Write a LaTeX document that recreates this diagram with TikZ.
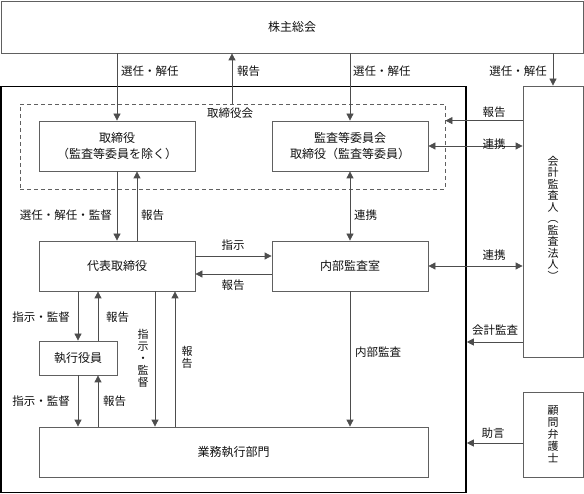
\documentclass[tikz,border=0pt]{standalone}
\usepackage{fontspec}
\setmainfont{Noto Sans CJK JP}
\usetikzlibrary{arrows.meta}
\definecolor{ln}{HTML}{4D4D4D}
\definecolor{bx}{HTML}{606060}
\definecolor{tx}{HTML}{111111}
\tikzset{
  box/.style={draw=bx, line width=0.8pt, inner sep=0pt, text=tx, align=center,
    font=\fontsize{12}{15.5}\selectfont},
  lbl/.style={inner sep=0pt, text=tx, font=\fontsize{11.5}{13}\selectfont},
  vlbl/.style={inner sep=0pt, text=tx, align=center, font=\fontsize{11}{12}\selectfont},
  arr/.style={draw=ln, line width=0.8pt, -{Triangle[length=7pt,width=7pt]}},
  darr/.style={draw=ln, line width=0.8pt, {Triangle[length=7pt,width=7pt]}-{Triangle[length=7pt,width=7pt]}}
}
\begin{document}
\begin{tikzpicture}[x=1pt,y=-1pt]
\useasboundingbox (0,0) rectangle (584,494);
% boxes
\node[box, minimum width=582pt, minimum height=52pt] (sh) at (292,27) {株主総会};
\node[draw=black, line width=1.6pt, minimum width=465pt, minimum height=406pt, inner sep=0pt] (co) at (233.5,289.5) {};
\node[draw=bx, dash pattern=on 4pt off 3pt, line width=0.8pt, minimum width=425pt, minimum height=85pt, inner sep=0pt] (bd) at (232.5,146.5) {};
\node[lbl] (bdl) at (230,113) {取締役会};
\node[box, minimum width=156pt, minimum height=50pt] (dir) at (117,146) {取締役\\（監査等委員を除く）};
\node[box, minimum width=156pt, minimum height=50pt] (ac) at (350,146) {監査等委員会\\取締役（監査等委員）};
\node[box, minimum width=156pt, minimum height=50pt] (rep) at (117,266) {代表取締役};
\node[box, minimum width=156pt, minimum height=50pt] (ia) at (350,266) {内部監査室};
\node[box, minimum width=78pt, minimum height=34pt] (exo) at (78,358) {執行役員};
\node[box, minimum width=389pt, minimum height=50pt] (ops) at (233.5,452) {業務執行部門};
\node[box, minimum width=60pt, minimum height=271pt, font=\fontsize{11}{11.5}\selectfont] (aud) at (553,221.5) {};
\node[inner sep=0pt, text=tx, align=center, font=\fontsize{11}{11.5}\selectfont] (audt) at (553,218) {会\\計\\監\\査\\人\\︵\\監\\査\\法\\人\\︶};
\node[box, minimum width=60pt, minimum height=85pt, font=\fontsize{11}{12}\selectfont] (law) at (553,434.5) {顧\\問\\弁\\護\\士};
% coordinates
\coordinate (r1) at (232,104);
\coordinate (ya) at (0,342);
\coordinate (yl) at (0,443);
\coordinate (xr) at (137,0);
\coordinate (xe) at (98,0);
\coordinate (xd) at (155,0);
\coordinate (xu) at (175,0);
\coordinate (yi) at (0,256);
\coordinate (yo) at (0,274);
% top connectors
\draw[arr] (sh.south -| dir.north) -- (dir.north);
\node[lbl, anchor=west] (l1) at (121,71) {選任・解任};
\draw[arr] (bd.north -| r1) -- (sh.south -| r1);
\node[lbl, anchor=west] (l2) at (237,71) {報告};
\draw[arr] (sh.south -| ac.north) -- (ac.north);
\node[lbl, anchor=west] (l3) at (353,71) {選任・解任};
\draw[arr] (sh.south -| aud.north) -- (aud.north);
\node[lbl, anchor=east] (l4) at (547,71) {選任・解任};
% auditor connectors
\draw[arr] (aud.west |- dir.north) -- (bd.east |- dir.north);
\node[lbl] (l5) at (494,112) {報告};
\draw[darr] (ac.east) -- (aud.west |- ac.east);
\node[lbl] (l6) at (494,144) {連携};
\draw[darr] (ia.east) -- (aud.west |- ia.east);
\node[lbl] (l7) at (494,255) {連携};
\draw[arr] (aud.west |- ya) -- (co.east |- ya);
\node[lbl] (l8) at (495,330) {会計監査};
\draw[arr] (law.west |- yl) -- (co.east |- yl);
\node[lbl] (l9) at (493,433) {助言};
% committee - internal audit
\draw[darr] (ac.south) -- (ia.north);
\node[lbl, anchor=west] (l10) at (354,215) {連携};
% directors - rep
\draw[arr] (dir.south) -- (rep.north);
\node[lbl, anchor=east] (l11) at (112,215) {選任・解任・監督};
\draw[arr] (rep.north -| xr) -- (dir.south -| xr);
\node[lbl, anchor=west] (l12) at (141,215) {報告};
% rep - internal audit
\draw[arr] (rep.east |- yi) -- (ia.west |- yi);
\node[lbl] (l13) at (233,245) {指示};
\draw[arr] (ia.west |- yo) -- (rep.east |- yo);
\node[lbl] (l14) at (233,285) {報告};
% rep - exec officers
\draw[arr] (rep.south -| exo.north) -- (exo.north);
\node[lbl, anchor=east] (l15) at (70,317) {指示・監督};
\draw[arr] (exo.north -| xe) -- (rep.south -| xe);
\node[lbl, anchor=west] (l16) at (106,317) {報告};
% exec officers - ops
\draw[arr] (exo.south) -- (ops.north -| exo.south);
\node[lbl, anchor=east] (l17) at (70,401) {指示・監督};
\draw[arr] (ops.north -| xe) -- (exo.south -| xe);
\node[lbl, anchor=west] (l18) at (103,401) {報告};
% rep - ops direct
\draw[arr] (rep.south -| xd) -- (ops.north -| xd);
\node[vlbl] (l19) at (143,358) {指\\示\\・\\監\\督};
\draw[arr] (ops.north -| xu) -- (rep.south -| xu);
\node[vlbl] (l20) at (187,357) {報\\告};
% internal audit - ops
\draw[arr] (ia.south) -- (ops.north -| ia.south);
\node[lbl, anchor=west] (l21) at (355,352) {内部監査};
\end{tikzpicture}
\end{document}
